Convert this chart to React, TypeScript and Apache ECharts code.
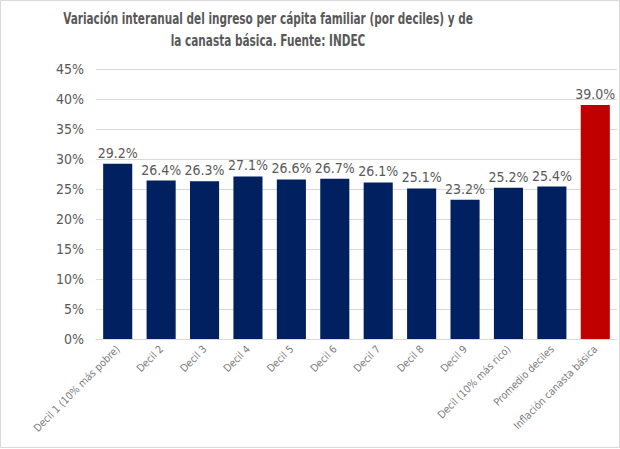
import React, { useEffect, useRef } from "react";
import * as echarts from "echarts";

const titleLines = [
  "Variación interanual del ingreso per cápita familiar (por deciles) y de",
  "la canasta básica. Fuente: INDEC",
];
const categories = [
  "Decil 1 (10% más pobre)",
  "Decil 2",
  "Decil 3",
  "Decil 4",
  "Decil 5",
  "Decil 6",
  "Decil 7",
  "Decil 8",
  "Decil 9",
  "Decil (10% más rico)",
  "Promedio deciles",
  "Inflación canasta básica",
];
const values = [29.2, 26.4, 26.3, 27.1, 26.6, 26.7, 26.1, 25.1, 23.2, 25.2, 25.4, 39.0];
const highlightIndex = 11;
const yTicks = { min: 0, max: 45, interval: 5 };

const FONT = "'DejaVu Sans Condensed', Roboto, sans-serif";

export default function App() {
  const ref = useRef<HTMLDivElement>(null);
  useEffect(() => {
    if (!ref.current) return;
    const chart = echarts.init(ref.current, null, { renderer: "svg" });
    chart.setOption({
      animation: false,
      backgroundColor: "#ffffff",
      graphic: [
        {
          type: "rect",
          shape: { x: 0.5, y: 0.5, width: 619, height: 447 },
          style: { fill: "none", stroke: "#d9d9d9", lineWidth: 1 },
          silent: true,
        },
        ...titleLines.map((t, i) => ({
          type: "text",
          x: 268,
          y: 18 + i * 22,
          scaleX: 0.73,
          silent: true,
          style: {
            text: t,
            textAlign: "center",
            textVerticalAlign: "middle",
            fill: "#595959",
            font: "bold 16px 'DejaVu Sans Condensed', Roboto, sans-serif",
          },
        })),
      ],
      grid: { left: 96, right: 3, top: 69, bottom: 110, containLabel: false },
      xAxis: {
        type: "category",
        data: categories,
        axisLine: { show: true, lineStyle: { color: "#d9d9d9" } },
        axisTick: { show: false },
        axisLabel: {
          rotate: 45,
          interval: 0,
          color: "#7a7a7a",
          fontFamily: FONT,
          fontSize: 10.5,
          margin: 8,
        },
      },
      yAxis: {
        type: "value",
        min: yTicks.min,
        max: yTicks.max,
        interval: yTicks.interval,
        axisLine: { show: false },
        axisTick: { show: false },
        splitLine: { lineStyle: { color: "#d9d9d9", width: 1 } },
        axisLabel: {
          formatter: (v: number) => v + "%",
          color: "#595959",
          fontFamily: FONT,
          fontSize: 14,
          margin: 12,
        },
      },
      series: [
        {
          type: "bar",
          data: values.map((v, i) => ({
            value: v,
            itemStyle: { color: i === highlightIndex ? "#C00000" : "#002060" },
          })),
          barCategoryGap: "33%",
          label: {
            show: true,
            position: "top",
            distance: 4,
            color: "#595959",
            fontFamily: FONT,
            fontSize: 14,
            formatter: (p: any) => Number(p.value).toFixed(1) + "%",
          },
        },
      ],
    });
    return () => chart.dispose();
  }, []);
  return (
    <div
      ref={ref}
      style={{ position: "absolute", left: 0, top: 0, width: 620, height: 449 }}
    />
  );
}
